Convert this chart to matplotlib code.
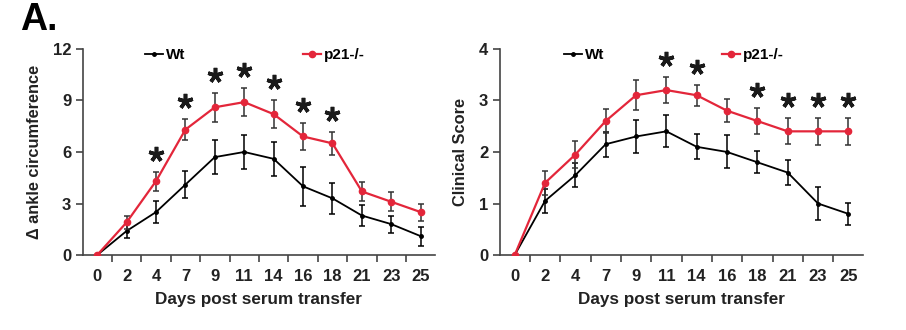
import numpy as np
import matplotlib.pyplot as plt
from matplotlib.ticker import FixedLocator
from matplotlib.lines import Line2D

plt.rcParams['font.family'] = ['Liberation Sans', 'DejaVu Sans']
plt.rcParams['font.weight'] = 'bold'
plt.rcParams['axes.labelweight'] = 'bold'

days = ['0', '2', '4', '7', '9', '11', '14', '16', '18', '21', '23', '25']

# ankle circumference change
ankle_wt = [0, 1.4, 2.5, 4.1, 5.7, 6.0, 5.6, 4.0, 3.3, 2.3, 1.8, 1.1]
ankle_wt_err = [0, 0.4, 0.63, 0.8, 1.0, 1.0, 1.0, 1.15, 0.9, 0.6, 0.5, 0.55]
ankle_ko = [0, 1.9, 4.3, 7.3, 8.6, 8.9, 8.2, 6.9, 6.5, 3.7, 3.1, 2.5]
ankle_ko_err = [0, 0.4, 0.55, 0.6, 0.85, 0.8, 0.8, 0.8, 0.65, 0.55, 0.55, 0.5]
ankle_sig = ['4', '7', '9', '11', '14', '16', '18']

# clinical score
score_wt = [0, 1.05, 1.55, 2.15, 2.3, 2.4, 2.1, 2.0, 1.8, 1.6, 1.0, 0.8]
score_wt_err = [0, 0.24, 0.23, 0.24, 0.32, 0.31, 0.24, 0.32, 0.21, 0.25, 0.32, 0.21]
score_ko = [0, 1.4, 1.95, 2.6, 3.1, 3.2, 3.1, 2.8, 2.6, 2.4, 2.4, 2.4]
score_ko_err = [0, 0.24, 0.26, 0.24, 0.29, 0.25, 0.2, 0.22, 0.26, 0.25, 0.26, 0.26]
score_sig = ['11', '14', '18', '21', '23', '25']

RED = '#e3263a'
GREY = '#444444'

fig = plt.figure(figsize=(9.06, 3.30), dpi=100)
ax1 = fig.add_axes([0.0916, 0.227, 0.3884, 0.625])
ax2 = fig.add_axes([0.552, 0.227, 0.4005, 0.625])


def panel(ax, wt, wt_err, ko, ko_err, sig, ymax, ystep, ylabel):
    x = np.arange(len(days))
    ax.errorbar(x, wt, yerr=wt_err, color='black', lw=1.3, marker='o', ms=2.5,
                capsize=2.5, elinewidth=1.1, capthick=1.1, zorder=3)
    ax.errorbar(x, ko, yerr=ko_err, color=RED, ecolor='#333333', lw=1.6,
                marker='o', ms=4.5, capsize=2.5, elinewidth=1.1, capthick=1.1,
                zorder=4)
    # significance stars above the p21-/- error bars
    off = ymax * 0.0875
    idx = [days.index(d) for d in sig]
    ax.plot(idx, [ko[i] + ko_err[i] + off for i in idx], ls='none',
            marker=(5, 2, 0), ms=11, mew=2.6, color='#1a1a1a', clip_on=False)

    ax.set_xlim(-0.48, 11.48)
    ax.set_ylim(0, ymax)
    ax.set_yticks(np.arange(0, ymax + 0.01, ystep))
    ax.set_xticks(x)
    ax.set_xticklabels(days)
    ax.xaxis.set_minor_locator(FixedLocator(np.arange(-0.5, 12, 1)))
    ax.tick_params(axis='x', which='major', length=0, pad=10, labelsize=12)
    ax.tick_params(axis='x', which='minor', length=5, width=1.2, color=GREY)
    ax.tick_params(axis='y', length=5, width=1.2, color=GREY, labelsize=12)
    for lab in ax.get_xticklabels() + ax.get_yticklabels():
        lab.set_fontweight('bold')
        lab.set_color('#222222')
    for s in ['top', 'right']:
        ax.spines[s].set_visible(False)
    for s in ['left', 'bottom']:
        ax.spines[s].set_color(GREY)
        ax.spines[s].set_linewidth(1.2)
    ax.set_xlabel('Days post serum transfer', fontsize=12.3, labelpad=6,
                  color='#222222')
    ax.set_ylabel(ylabel, fontsize=11.8, labelpad=8, color='#222222')

    handles = [Line2D([], [], color='black', lw=1.3, marker='o', ms=2.5),
               Line2D([], [], color=RED, lw=1.6, marker='o', ms=4.5)]
    ax.legend(handles, ['Wt', 'p21-/-'], ncol=2, loc='lower left',
              bbox_to_anchor=(0.175, 0.935), frameon=False,
              prop={'size': 11, 'weight': 'bold'}, handlelength=1.2,
              handletextpad=0.2, columnspacing=7.7, borderpad=0,
              borderaxespad=0)


panel(ax1, ankle_wt, ankle_wt_err, ankle_ko, ankle_ko_err, ankle_sig, 12, 3,
      'Δ ankle circumference')
panel(ax2, score_wt, score_wt_err, score_ko, score_ko_err, score_sig, 4, 1,
      'Clinical Score')

fig.text(0.022, 0.91, 'A.', fontsize=27, fontweight='bold')

fig.savefig('out.png', dpi=100)
